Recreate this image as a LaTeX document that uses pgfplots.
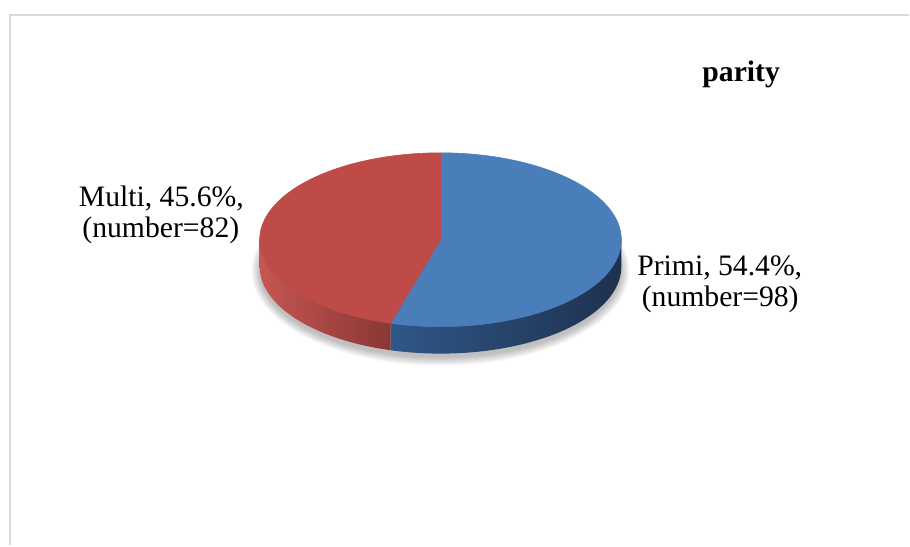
\documentclass[border=0pt]{standalone}
\usepackage{pgfplots}
\usepackage{pgfplotstable}
\pgfplotsset{compat=1.18}
\usepackage{fontspec}
\setmainfont{Liberation Serif}
\definecolor{blueTop}{HTML}{4A7EBB}
\definecolor{redTop}{HTML}{BE4B48}
\definecolor{blueSideL}{HTML}{2F5788}
\definecolor{blueSideR}{HTML}{1E314D}
\definecolor{redSideL}{HTML}{C65653}
\definecolor{redSideM}{HTML}{A4423F}
\definecolor{redSideR}{HTML}{883735}
\definecolor{frameGray}{HTML}{D9D9D9}
\pgfplotstableread{
label value
Primi 98
Multi 82
}\paritydata
\pgfplotstablegetelem{0}{value}\of\paritydata\let\vP\pgfplotsretval%
\pgfplotstablegetelem{1}{value}\of\paritydata\let\vM\pgfplotsretval%
\pgfmathsetmacro\total{\vP+\vM}%
\pgfmathsetmacro\fracP{\vP/\total}%
\pgfmathsetmacro\endA{90-360*\fracP}%
\pgfmathsetmacro\endB{\endA+360}%
\def\cx{441}\def\cy{240}\def\ra{181}\def\rb{87}\def\hh{27}%
\pgfmathsetmacro\xs{\cx+\ra*cos(\endA)}%
\pgfmathsetmacro\ys{\cy-\rb*sin(\endA)}%
\pgfmathsetmacro\xR{\cx+\ra}%
\pgfmathsetmacro\xL{\cx-\ra}%
\begin{document}%
\begin{tikzpicture}
\begin{axis}[
  width=910bp, height=546bp, scale only axis,
  xmin=0, xmax=910, ymin=0, ymax=546, y dir=reverse,
  hide axis, clip=false,
  trig format plots=deg,
]
\path (axis cs:0,0) rectangle (axis cs:910,546);
% frame
\draw[frameGray, line width=2bp] (axis cs:910,15) -- (axis cs:10,15) -- (axis cs:10,546);
% shadow
\pgfplotsinvokeforeach{0,...,8}{
  \fill[black, opacity=0.03] (axis cs:\cx,\cy+\hh+4) ellipse [x radius={\ra+8-#1}, y radius={\rb+8-#1}];
}
% sides
\addplot[draw=none, left color=blueSideL, right color=blueSideR, domain=\endA:0, samples=120, variable=\t]
  ({\cx+\ra*cos(t)},{\cy+\hh-\rb*sin(t)}) -- (axis cs:\xR,\cy) -- (axis cs:\xs,\cy) -- cycle;
\addplot[draw=none, left color=redSideL, middle color=redSideM, right color=redSideR, domain=180:\endB, samples=120, variable=\t]
  ({\cx+\ra*cos(t)},{\cy+\hh-\rb*sin(t)}) -- (axis cs:\xs,\cy) -- (axis cs:\xL,\cy) -- cycle;
% tops
\addplot[draw=blueTop, line width=0.6bp, fill=blueTop, domain=\endA:90, samples=200, variable=\t]
  ({\cx+\ra*cos(t)},{\cy-\rb*sin(t)}) -- (axis cs:\cx,\cy) -- cycle;
\addplot[draw=redTop, line width=0.6bp, fill=redTop, domain=90:\endB, samples=200, variable=\t]
  ({\cx+\ra*cos(t)},{\cy-\rb*sin(t)}) -- (axis cs:\cx,\cy) -- cycle;
% labels
\node[anchor=base, font=\fontsize{29.7bp}{31bp}\selectfont\bfseries] at (axis cs:742,81.7) {parity};
\node[anchor=base, font=\fontsize{29.7bp}{31bp}\selectfont] at (axis cs:161.5,206.7) {Multi, 45.6\%,};
\node[anchor=base, font=\fontsize{29.7bp}{31bp}\selectfont] at (axis cs:161,238) {(number=82)};
\node[anchor=base, font=\fontsize{29.7bp}{31bp}\selectfont] at (axis cs:720.5,275.7) {Primi, 54.4\%,};
\node[anchor=base, font=\fontsize{29.7bp}{31bp}\selectfont] at (axis cs:721,306.7) {(number=98)};
\end{axis}
\end{tikzpicture}%
\end{document}
